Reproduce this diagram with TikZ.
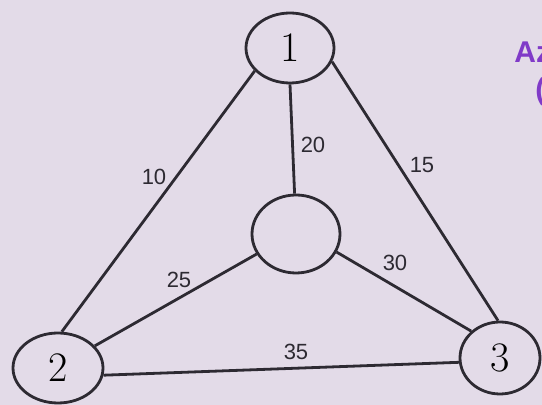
\documentclass[tikz,border=0pt]{standalone}
\usepackage{fontspec}
\newfontfamily\labelfont{Liberation Sans}
\usetikzlibrary{shapes.geometric}
\definecolor{paper}{RGB}{227,219,232}
\definecolor{ink}{RGB}{45,42,50}
\definecolor{notecol}{RGB}{128,58,200}

\begin{document}
\begin{tikzpicture}[x=0.5pt,y=-0.5pt,
  vert/.style={draw=ink,line width=1.4pt,ellipse,inner sep=0pt,font=\fontsize{21}{24}\selectfont},
  link/.style={draw=ink,line width=1.4pt},
  wt/.style={font=\labelfont\fontsize{11}{13}\selectfont,text=ink,inner sep=0pt}]
\fill[paper] (0,0) rectangle (542,405);
\useasboundingbox (0,0) rectangle (542,405);
% vertices
\node[vert,minimum width=44pt,minimum height=35pt] (n1) at (290,48) {1};
\node[vert,minimum width=45pt,minimum height=35pt] (n2) at (58,368) {2};
\node[vert,minimum width=40pt,minimum height=36pt] (n3) at (500,358) {3};
\node[vert,minimum width=44pt,minimum height=39pt] (mid) at (296,234) {};
% edges
\draw[link] (n1.-147) -- (n2.84);
\draw[link] (n1.-18) -- (n3.93);
\draw[link] (n1.-90) -- (mid.92);
\draw[link] (n2.31) -- (mid.-153);
\draw[link] (n3.137) -- (mid.-24);
\draw[link] (n2.-9) -- (n3.-174);
% weights
\node[wt] (w10) at (154,177) {10};
\node[wt] (w20) at (313,145) {20};
\node[wt] (w15) at (422,165) {15};
\node[wt] (w25) at (179,280) {25};
\node[wt] (w30) at (395,263) {30};
\node[wt] (w35) at (296,352) {35};
% cut-off note
\node[anchor=base west,inner sep=0pt,text=notecol,font=\labelfont\bfseries\fontsize{15}{18}\selectfont] (note) at (514,63) {Az};
\node[anchor=base west,inner sep=0pt,text=notecol,font=\labelfont\bfseries\fontsize{15}{18}\selectfont] (note2) at (535,100) {(};
\end{tikzpicture}
\end{document}
